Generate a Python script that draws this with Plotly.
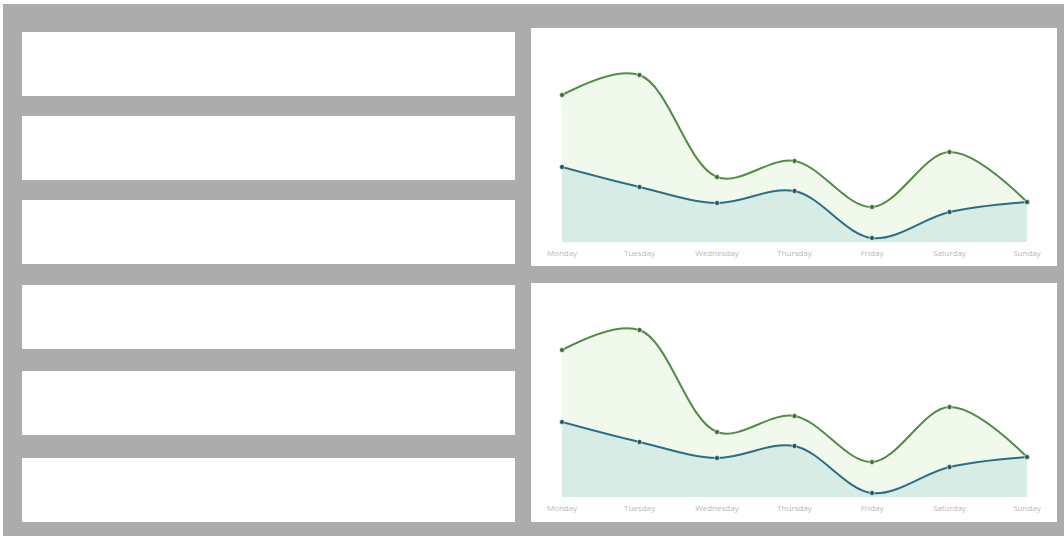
import plotly.graph_objects as go

days = ["Monday", "Tuesday", "Wednesday", "Thursday", "Friday", "Saturday", "Sunday"]
green_vals = [147, 167, 65, 81, 35, 90, 40]
blue_vals = [75, 55, 39, 51, 4, 30, 40]

W, H = 1064, 536

def px(x):
    return x / W

def py(y):
    return 1 - y / H

GREEN_LINE = "#508c43"
GREEN_FILL = "rgba(238,248,233,0.85)"
BLUE_LINE = "#2d6d84"
BLUE_FILL = "rgba(212,234,228,0.9)"

fig = go.Figure()

for xa, ya in [("x", "y"), ("x2", "y2")]:
    fig.add_trace(go.Scatter(
        x=days, y=green_vals, xaxis=xa, yaxis=ya, mode="lines+markers",
        line=dict(color=GREEN_LINE, width=2, shape="spline", smoothing=1.0),
        marker=dict(color="#3d6f33", size=5, line=dict(color="rgba(255,255,255,0.6)", width=1)),
        fill="tozeroy", fillcolor=GREEN_FILL, cliponaxis=False, showlegend=False,
        hoverinfo="skip"))
    fig.add_trace(go.Scatter(
        x=days, y=blue_vals, xaxis=xa, yaxis=ya, mode="lines+markers",
        line=dict(color=BLUE_LINE, width=2, shape="spline", smoothing=1.0),
        marker=dict(color="#24566a", size=5, line=dict(color="rgba(255,255,255,0.6)", width=1)),
        fill="tozeroy", fillcolor=BLUE_FILL, cliponaxis=False, showlegend=False,
        hoverinfo="skip"))

shapes = []
shapes.append(dict(type="rect", xref="paper", yref="paper", layer="below",
                   x0=px(3), x1=px(W), y0=py(H), y1=py(4),
                   fillcolor="#acacac", line=dict(width=0)))
for top, bot in [(32, 96), (116, 180), (200, 264), (285, 349), (371, 435), (458, 522)]:
    shapes.append(dict(type="rect", xref="paper", yref="paper", layer="below",
                       x0=px(22), x1=px(515), y0=py(bot), y1=py(top),
                       fillcolor="white", line=dict(width=0)))
for top, bot in [(28, 266), (283, 522)]:
    shapes.append(dict(type="rect", xref="paper", yref="paper", layer="below",
                       x0=px(531), x1=px(1057), y0=py(bot), y1=py(top),
                       fillcolor="white", line=dict(width=0)))

xcommon = dict(type="category", range=[0, 6], showgrid=False, zeroline=False,
               showline=False, ticks="outside", ticklen=3, tickcolor="rgba(0,0,0,0)",
               tickfont=dict(family="Open Sans", size=8, color="#b8b8b8"),
               fixedrange=True, automargin=False)
ycommon = dict(range=[0, 200], showgrid=False, zeroline=False, showline=False,
               showticklabels=False, fixedrange=True, automargin=False)

fig.update_layout(
    width=W, height=H,
    margin=dict(l=0, r=0, t=0, b=0, pad=0, autoexpand=False),
    paper_bgcolor="white",
    plot_bgcolor="rgba(0,0,0,0)",
    shapes=shapes,
    xaxis=dict(domain=[px(562), px(1027)], anchor="y", **xcommon),
    yaxis=dict(domain=[py(242), py(42)], anchor="x", **ycommon),
    xaxis2=dict(domain=[px(562), px(1027)], anchor="y2", **xcommon),
    yaxis2=dict(domain=[py(497), py(297)], anchor="x2", **ycommon),
)

post = ("document.body.style.margin='0';document.body.style.padding='0';"
        "document.documentElement.style.overflow='hidden';document.body.style.overflow='hidden';")

fig.write_html("out.html", post_script=post, config={"displayModeBar": False})
